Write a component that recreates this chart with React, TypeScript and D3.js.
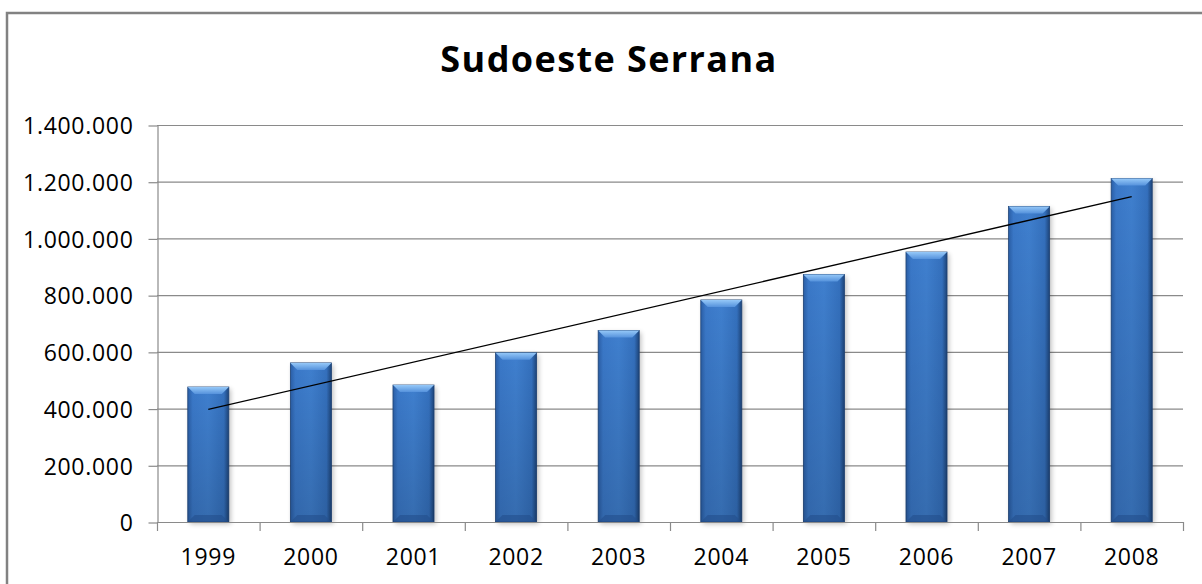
import React, { useEffect, useRef } from "react";
import * as d3 from "d3";

const years = ["1999", "2000", "2001", "2002", "2003", "2004", "2005", "2006", "2007", "2008"];
const values = [476000, 561000, 483000, 597000, 675000, 783000, 873000, 952000, 1113000, 1211000];
const yTicks = [0, 200000, 400000, 600000, 800000, 1000000, 1200000, 1400000];
const title = "Sudoeste Serrana";

const width = 1202;
const height = 584;
const marginLeft = 157;
const marginRight = 19;
const marginTop = 125;
const marginBottom = 62;

const fmt = (v: number) => d3.format(",")(v).replace(/,/g, ".");

export default function App() {
  const svgRef = useRef<SVGSVGElement>(null);

  useEffect(() => {
    const svg = d3.select(svgRef.current);
    svg.selectAll("*").remove();

    const defs = svg.append("defs");
    const grad = defs.append("linearGradient").attr("id", "barFill").attr("x1", 0).attr("x2", 1).attr("y1", 0).attr("y2", 0);
    grad.append("stop").attr("offset", "0%").attr("stop-color", "#2a5ea6");
    grad.append("stop").attr("offset", "12%").attr("stop-color", "#3a78c8");
    grad.append("stop").attr("offset", "50%").attr("stop-color", "#3f7fce");
    grad.append("stop").attr("offset", "88%").attr("stop-color", "#3470bd");
    grad.append("stop").attr("offset", "100%").attr("stop-color", "#1d4479");
    const vgrad = defs.append("linearGradient").attr("id", "barShade").attr("x1", 0).attr("x2", 0).attr("y1", 0).attr("y2", 1);
    vgrad.append("stop").attr("offset", "0%").attr("stop-color", "#000").attr("stop-opacity", 0);
    vgrad.append("stop").attr("offset", "100%").attr("stop-color", "#000").attr("stop-opacity", 0.15);
    const top = defs.append("linearGradient").attr("id", "bevelTop").attr("x1", 0).attr("x2", 0).attr("y1", 0).attr("y2", 1);
    top.append("stop").attr("offset", "0%").attr("stop-color", "#95c8f8");
    top.append("stop").attr("offset", "100%").attr("stop-color", "#5592dc");
    const blur = defs.append("filter").attr("id", "shadow").attr("x", "-30%").attr("width", "160%").attr("y", "-5%").attr("height", "115%");
    blur.append("feGaussianBlur").attr("stdDeviation", 2.5);

    // chart frame
    svg.append("rect")
      .attr("x", 7).attr("y", 13).attr("width", 1200).attr("height", 580)
      .attr("fill", "#fff").attr("stroke", "#828282").attr("stroke-width", 2.5);

    const x = d3.scaleBand().domain(years).range([marginLeft, width - marginRight]).paddingInner(0.6).paddingOuter(0.3);
    const y = d3.scaleLinear().domain([0, 1400000]).range([height - marginBottom, marginTop]);

    const font = "'Open Sans', sans-serif";

    // gridlines
    svg.append("g").selectAll("line").data(yTicks.filter((t) => t > 0)).join("line")
      .attr("x1", marginLeft).attr("x2", width - marginRight)
      .attr("y1", (d) => y(d) + 0.5).attr("y2", (d) => y(d) + 0.5)
      .attr("stroke", "#8a8a8a").attr("stroke-width", 1.2);

    // y axis
    const yAxis = svg.append("g").attr("transform", `translate(${marginLeft + 0.5},0.5)`)
      .call(d3.axisLeft(y).tickValues(yTicks).tickFormat((d) => fmt(+d)).tickSize(9).tickPadding(15).tickSizeOuter(0));
    yAxis.select(".domain").attr("stroke", "#8a8a8a").attr("stroke-width", 1.2);
    yAxis.selectAll(".tick line").attr("stroke", "#8a8a8a").attr("stroke-width", 1.2);
    yAxis.selectAll("text").attr("font-family", font).attr("font-size", 23).attr("letter-spacing", 0.7)
      .attr("fill", "#000").attr("dy", "0.36em");

    // bars
    const step = x.step();
    const bars = svg.append("g").selectAll("g").data(years).join("g");
    bars.append("rect")
      .attr("x", (d) => x(d)! + 2).attr("y", (d, i) => y(values[i]) + 2)
      .attr("width", x.bandwidth()).attr("height", (d, i) => y(0) - y(values[i]))
      .attr("fill", "#000").attr("opacity", 0.25).attr("filter", "url(#shadow)");
    bars.append("rect")
      .attr("x", (d) => x(d)!).attr("y", (d, i) => y(values[i]))
      .attr("width", x.bandwidth()).attr("height", (d, i) => y(0) - y(values[i]))
      .attr("fill", "url(#barFill)").attr("stroke", "#1d4275").attr("stroke-width", 0.8);
    bars.append("rect")
      .attr("x", (d) => x(d)!).attr("y", (d, i) => y(values[i]))
      .attr("width", x.bandwidth()).attr("height", (d, i) => y(0) - y(values[i]))
      .attr("fill", "url(#barShade)");
    const bev = 7;
    bars.append("path")
      .attr("d", (d, i) => {
        const x0 = x(d)!, x1 = x0 + x.bandwidth(), t = y(values[i]);
        return `M${x0},${t}L${x1},${t}L${x1 - bev},${t + bev}L${x0 + bev},${t + bev}Z`;
      })
      .attr("fill", "url(#bevelTop)");
    bars.append("path")
      .attr("d", (d) => {
        const x0 = x(d)!, x1 = x0 + x.bandwidth(), b = y(0);
        return `M${x0},${b}L${x1},${b}L${x1 - bev},${b - bev}L${x0 + bev},${b - bev}Z`;
      })
      .attr("fill", "#234f8c").attr("opacity", 0.6);

    // x axis
    const xAxis = svg.append("g").attr("transform", `translate(0,${y(0) + 0.5})`)
      .call(d3.axisBottom(x).tickSize(0).tickPadding(26));
    xAxis.select(".domain").remove();
    xAxis.selectAll("text").attr("font-family", font).attr("font-size", 23).attr("letter-spacing", 0.7).attr("fill", "#000");
    svg.append("line")
      .attr("x1", marginLeft).attr("x2", width - marginRight)
      .attr("y1", y(0) + 0.5).attr("y2", y(0) + 0.5)
      .attr("stroke", "#8a8a8a").attr("stroke-width", 1.2);
    svg.append("g").selectAll("line").data(d3.range(years.length + 1)).join("line")
      .attr("x1", (i) => marginLeft + i * step + 0.5).attr("x2", (i) => marginLeft + i * step + 0.5)
      .attr("y1", y(0)).attr("y2", y(0) + 9)
      .attr("stroke", "#8a8a8a").attr("stroke-width", 1.2);

    // linear trendline (least squares)
    const xs = d3.range(values.length);
    const mx = d3.mean(xs)!, my = d3.mean(values)!;
    const slope = d3.sum(xs, (i) => (i - mx) * (values[i] - my)) / d3.sum(xs, (i) => (i - mx) ** 2);
    const icpt = my - slope * mx;
    const line = d3.line<number>()
      .x((i) => x(years[i])! + x.bandwidth() / 2)
      .y((i) => y(icpt + slope * i));
    svg.append("path").datum([0, values.length - 1]).attr("d", line)
      .attr("fill", "none").attr("stroke", "#000").attr("stroke-width", 1.3);

    // title
    svg.append("text")
      .attr("x", 609).attr("y", 72).attr("text-anchor", "middle")
      .attr("font-family", font).attr("font-weight", 700).attr("font-size", 36)
      .attr("letter-spacing", 1.4)
      .attr("fill", "#000").text(title);
  }, []);

  return (
    <svg ref={svgRef} width={width} height={height}
      style={{ position: "absolute", left: 0, top: 0, background: "#fff" }} />
  );
}
